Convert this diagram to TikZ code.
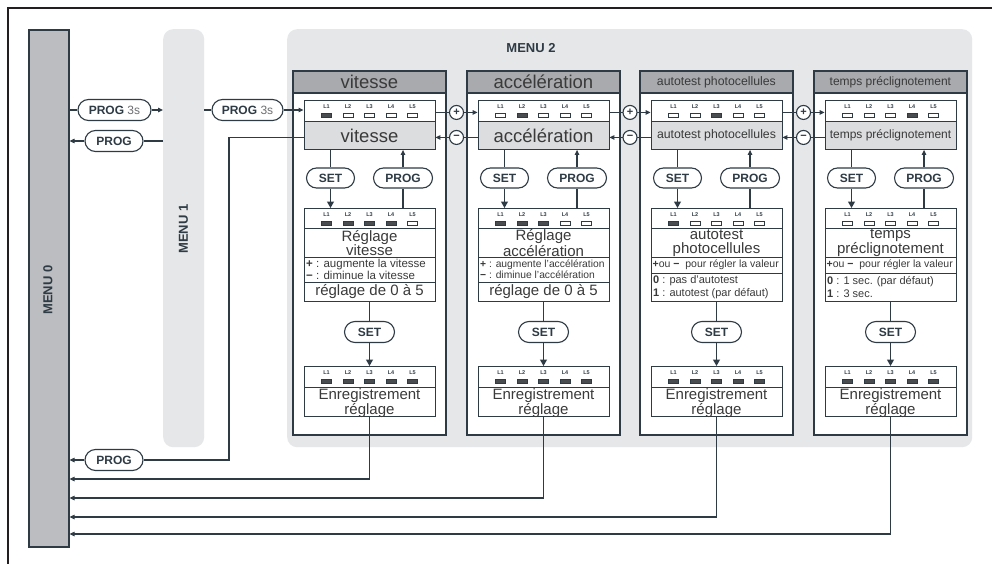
\documentclass[tikz,border=0pt]{standalone}
\usepackage{fontspec}
\setmainfont{Liberation Sans}
\usetikzlibrary{arrows.meta,shapes.misc,calc}
\definecolor{dk}{HTML}{2E3B45}
\definecolor{frm}{HTML}{231F20}
\definecolor{mzero}{HTML}{BCBDC0}
\definecolor{bgc}{HTML}{E6E7E8}
\definecolor{tb}{HTML}{A8AAAD}
\definecolor{nm}{HTML}{DCDDDF}
\definecolor{ledon}{HTML}{4A4D50}
\definecolor{txt}{HTML}{3A3A3A}
\definecolor{grtxt}{HTML}{6D6E71}
\newcommand\fs[1]{\fontsize{#1}{#1}\selectfont}
\newcommand\fsb[2]{\fontsize{#1}{#2}\selectfont}
\newcommand\leds[4]{%
  \foreach \s [count=\k] in {#4}{%
    \node[ledlab] (#1l\k) at ({#2+(\k-3)*21.5},{#3+6.8}) {L\k};
    \node[led, fill=\s] (#1d\k) at ({#2+(\k-3)*21.5},{#3+15.3}) {};
  }}
\newcommand\col[7]{%
  \pgfmathsetmacro\cx{#2+77.5}%
  \pgfmathsetmacro\il{#2+12}%
  \node[panel] (#1p) at (#2,70) {};
  \node[tbar] (#1t) at (#2,70) {#3};
  \node[box,fill=white,minimum height=21pt] (#1l) at (\cx,100) {};
  \node[box,fill=nm,minimum height=28pt,text=txt] (#1n) at (\cx,121) {#3};
  \leds{#1a}{\cx}{100}{#4}
  \node[pill,minimum width=48pt] (#1s) at ({\cx-39},178) {SET};
  \node[pill,minimum width=59pt] (#1g) at ({\cx+33.5},178) {PROG};
  \node[box,fill=white,minimum height=93pt] (#1b) at (\cx,208) {};
  \leds{#1c}{\cx}{208}{#5}
  \draw[div] (\il,228) -- ++(131,0) (\il,257) -- ++(131,0) (\il,#6) -- ++(131,0);
  \node[pill,minimum width=50pt,minimum height=21pt] (#1x) at (\cx,332) {SET};
  \node[box,fill=white,minimum height=50pt] (#1e) at (\cx,366) {};
  \leds{#1d}{\cx}{366}{ledon,ledon,ledon,ledon,ledon}
  \draw[div] (\il,387) -- ++(131,0);
  \node[txtn,font=\fsb{15}{13}] (#1et) at (\cx,403) {Enregistrement\\réglage};
  \draw[ln] (#1n.south -| #1s) -- (#1s.north);
  \draw[arrb] (#1s.south) -- (#1b.north -| #1s);
  \draw[ln] (#1b.north -| #1g) -- (#1g.south);
  \draw[arr] (#1g.north) -- (#1n.south -| #1g);
  \draw[ln] (#1b.south) -- (#1x.north);
  \draw[arrb] (#1x.south) -- (#1e.north);
  \coordinate (#1r) at (0,#7);
  \draw[arr] (#1e.south) |- (m0.east |- #1r);
}
\begin{document}
\begin{tikzpicture}[x=1pt,y=-1pt,
  ln/.style={draw=dk, line width=1.1pt},
  arr/.style={ln, -{Triangle[length=5pt,width=4.5pt]}},
  arrb/.style={ln, -{Triangle[length=6.5pt,width=7pt]}},
  div/.style={draw=dk, line width=0.8pt},
  pill/.style={rounded rectangle, draw=dk, line width=1.1pt, fill=white, minimum height=20pt, inner sep=0pt, text=dk, font=\bfseries\fs{12}},
  circ/.style={circle, draw=dk, line width=1.1pt, fill=white, minimum size=14pt, inner sep=0pt, text=dk, font=\bfseries\fs{11}},
  panel/.style={draw=dk, line width=1.8pt, fill=white, minimum width=153pt, minimum height=364pt, anchor=north west, inner sep=0pt},
  tbar/.style={draw=dk, line width=1.8pt, fill=tb, minimum width=153pt, minimum height=22pt, anchor=north west, inner sep=0pt, text=txt},
  box/.style={draw=dk, line width=0.9pt, minimum width=131pt, anchor=north, inner sep=0pt},
  led/.style={rectangle, draw=dk, line width=0.6pt, minimum width=10pt, minimum height=4pt, inner sep=0pt},
  ledlab/.style={inner sep=0pt, font=\bfseries\fs{5.5}, text=dk},
  txtn/.style={inner sep=0pt, text=txt, align=center},
  lbl/.style={inner sep=0pt, text=dk, font=\bfseries\fs{13}}]
\useasboundingbox (0,0) rectangle (992,564);
\fill[white] (0,0) rectangle (992,564);
% frame
\draw[line width=2.2pt, draw=frm] (8,564) -- (8,8) -- (992,8);
% menu backgrounds
\node[fill=bgc, rounded corners=10pt, minimum width=685pt, minimum height=418pt, anchor=north west, inner sep=0pt] (m2) at (287,29) {};
\node[lbl] (m2l) at (531,48) {MENU 2};
\node[fill=bgc, rounded corners=10pt, minimum width=41pt, minimum height=418pt, anchor=north west, inner sep=0pt] (m1) at (163,29) {};
\node[lbl, rotate=90] (m1l) at (183.5,229) {MENU 1};
\node[draw=dk, line width=1.6pt, fill=mzero, minimum width=40pt, minimum height=517pt, anchor=north west, inner sep=0pt] (m0) at (28,29) {};
\node[lbl, rotate=90] (m0l) at (48,290) {MENU 0};
% columns
\col{v}{292}{\fs{18.5}vitesse}{ledon,white,white,white,white}{ledon,ledon,ledon,ledon,white}{282}{479}
\col{a}{466}{\fs{18.5}accélération}{white,ledon,white,white,white}{ledon,ledon,ledon,white,white}{282}{498}
\col{p}{639}{\fs{12.3}autotest photocellules}{white,white,ledon,white,white}{ledon,white,white,white,white}{273}{517}
\col{t}{813}{\fs{12}temps préclignotement}{white,white,white,ledon,white}{white,white,white,white,white}{273}{534}
% setting box texts
\node[txtn,font=\fsb{15}{14}] (vs1) at (369.5,243) {Réglage\\vitesse};
\node[txtn,anchor=west,align=left,font=\fsb{11.5}{11.5}] (vs2) at (306,269.5) {\textbf{+} : augmente la vitesse\\\textbf{−} : diminue la vitesse};
\node[txtn,font=\fs{15}] (vs3) at (369.5,291.5) {réglage de 0 à 5};
\node[txtn,font=\fsb{15}{14}] (as1) at (543.5,243) {Réglage\\accélération};
\node[txtn,anchor=west,align=left,font=\fsb{10.3}{11.5}] (as2) at (480,269.5) {\textbf{+} : augmente l'accélération\\\textbf{−} : diminue l'accélération};
\node[txtn,font=\fs{15}] (as3) at (543.5,291.5) {réglage de 0 à 5};
\node[txtn,font=\fsb{15}{14}] (ps1) at (716.5,243) {autotest\\photocellules};
\node[txtn,anchor=west,font=\fs{10.5}] (ps2) at (652.5,265) {\textbf{+}ou \textbf{−}\ \ pour régler la valeur};
\node[txtn,anchor=west,align=left,font=\fsb{11}{12.5}] (ps3) at (653,287) {\textbf{0} : pas d'autotest\\\textbf{1} : autotest (par défaut)};
\node[txtn,font=\fsb{15}{14}] (ts1) at (890.5,243) {temps\\préclignotement};
\node[txtn,anchor=west,font=\fs{10.5}] (ts2) at (826.5,265) {\textbf{+}ou \textbf{−}\ \ pour régler la valeur};
\node[txtn,anchor=west,align=left,font=\fsb{11}{12.5}] (ts3) at (827,287) {\textbf{0} : 1 sec. (par défaut)\\\textbf{1} : 3 sec.};
% +/- connectors
\draw[arr] ([yshift=-1.5pt]vl.east) -- ([yshift=-1.5pt]al.west) node[circ,midway] (c1) {+};
\draw[arr] ([yshift=-2pt]an.west) -- ([yshift=-2pt]vn.east) node[circ,midway] (c2) {−};
\draw[arr] ([yshift=-1.5pt]al.east) -- ([yshift=-1.5pt]pl.west) node[circ,midway] (c3) {+};
\draw[arr] ([yshift=-2pt]pn.west) -- ([yshift=-2pt]an.east) node[circ,midway] (c4) {−};
\draw[arr] ([yshift=-1.5pt]pl.east) -- ([yshift=-1.5pt]tl.west) node[circ,midway] (c5) {+};
\draw[arr] ([yshift=-2pt]tn.west) -- ([yshift=-2pt]pn.east) node[circ,midway] (c6) {−};
% left pills
\node[pill,minimum width=73pt,minimum height=21pt] (q1) at (114.5,110) {PROG {\mdseries\color{grtxt}3s}};
\node[pill,minimum width=58pt,minimum height=21pt] (q2) at (114,141) {PROG};
\node[pill,minimum width=71pt,minimum height=21pt] (q3) at (247.5,110) {PROG {\mdseries\color{grtxt}3s}};
\node[pill,minimum width=58pt,minimum height=21pt] (q4) at (114,460) {PROG};
\draw[ln] (m0.east |- q1) -- (q1.west);
\draw[arr] (q1.east) -- (m1.west |- q1);
\draw[ln] (m1.west |- q2) -- (q2.east);
\draw[arr] (q2.west) -- (m0.east |- q2);
\draw[ln] (m1.east |- q3) -- (q3.west);
\draw[arr] (q3.east) -- (vl.west |- q3);
\coordinate (bend) at (229,460);
\draw[ln] ([yshift=-2pt]vn.west) -| (bend) -- (q4.east);
\draw[arr] (q4.west) -- (m0.east |- q4);
\end{tikzpicture}
\end{document}
